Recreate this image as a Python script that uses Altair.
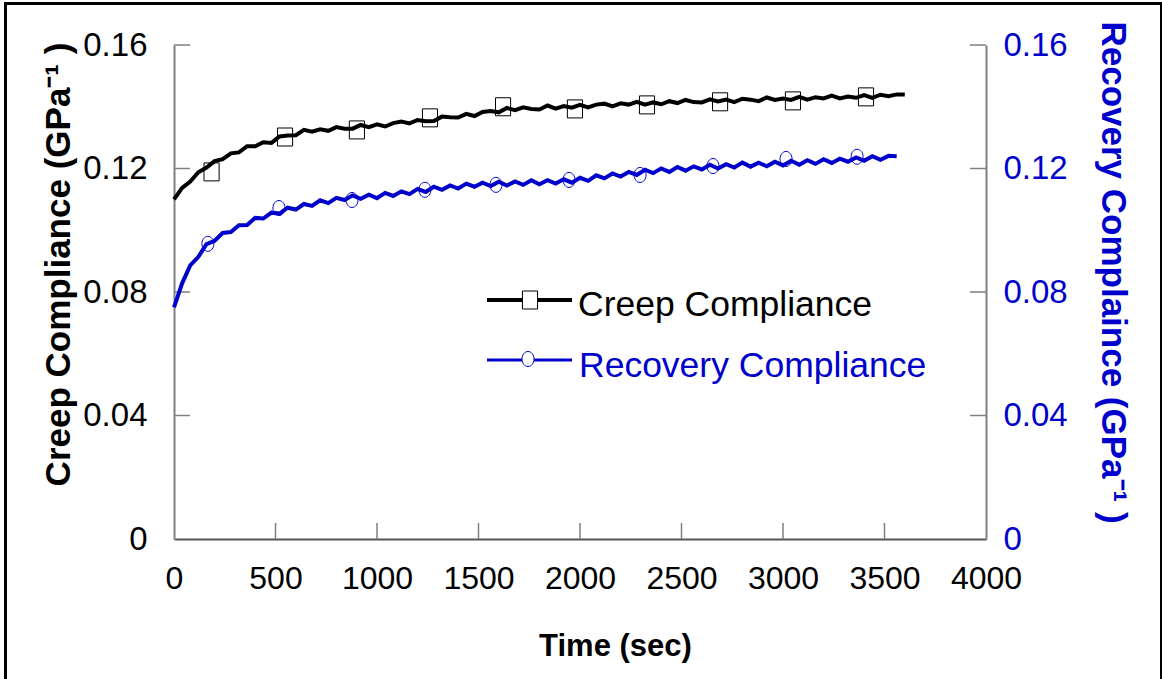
import altair as alt
import pandas as pd

# ---------------- data ----------------
time_creep = [0, 40, 80, 120, 160, 200, 240, 280, 320, 360, 400, 440, 480, 520, 560, 600,
              640, 680, 720, 760, 800, 840, 880, 920, 960, 1000, 1040, 1080, 1120, 1160, 1200,
              1240, 1280, 1320, 1360, 1400, 1440, 1480, 1520, 1560, 1600, 1640, 1680, 1720,
              1760, 1800, 1840, 1880, 1920, 1960, 2000, 2040, 2080, 2120, 2160, 2200, 2240,
              2280, 2320, 2360, 2400, 2440, 2480, 2520, 2560, 2600, 2640, 2680, 2720, 2760,
              2800, 2840, 2880, 2920, 2960, 3000, 3040, 3080, 3120, 3160, 3200, 3240, 3280,
              3320, 3360, 3400, 3440, 3480, 3520, 3560, 3600]
creep = [0.1100, 0.1137, 0.1158, 0.1188, 0.1203, 0.1224, 0.1230, 0.1249, 0.1252, 0.1272,
         0.1272, 0.1285, 0.1283, 0.1304, 0.1307, 0.1308, 0.1325, 0.1319, 0.1327, 0.1322,
         0.1334, 0.1329, 0.1329, 0.1341, 0.1334, 0.1343, 0.1336, 0.1347, 0.1352, 0.1346,
         0.1357, 0.1353, 0.1354, 0.1368, 0.1366, 0.1365, 0.1377, 0.1370, 0.1383, 0.1386,
         0.1382, 0.1396, 0.1389, 0.1398, 0.1393, 0.1391, 0.1404, 0.1394, 0.1402, 0.1397,
         0.1406, 0.1398, 0.1407, 0.1410, 0.1401, 0.1411, 0.1407, 0.1416, 0.1407, 0.1414,
         0.1408, 0.1418, 0.1412, 0.1422, 0.1415, 0.1414, 0.1424, 0.1417, 0.1423, 0.1415,
         0.1426, 0.1423, 0.1418, 0.1430, 0.1422, 0.1427, 0.1422, 0.1432, 0.1423, 0.1431,
         0.1427, 0.1436, 0.1427, 0.1433, 0.1429, 0.1438, 0.1429, 0.1439, 0.1434, 0.1440,
         0.1440]

time_recovery = [0, 40, 80, 120, 160, 200, 240, 280, 320, 360, 400, 440, 480, 520, 560, 600,
                 640, 680, 720, 760, 800, 840, 880, 920, 960, 1000, 1040, 1080, 1120, 1160,
                 1200, 1240, 1280, 1320, 1360, 1400, 1440, 1480, 1520, 1560, 1600, 1640, 1680,
                 1720, 1760, 1800, 1840, 1880, 1920, 1960, 2000, 2040, 2080, 2120, 2160, 2200,
                 2240, 2280, 2320, 2360, 2400, 2440, 2480, 2520, 2560, 2600, 2640, 2680, 2720,
                 2760, 2800, 2840, 2880, 2920, 2960, 3000, 3040, 3080, 3120, 3160, 3200, 3240,
                 3280, 3320, 3360, 3400, 3440, 3480, 3520, 3560]
recovery = [0.0750, 0.0828, 0.0886, 0.0914, 0.0955, 0.0966, 0.0991, 0.0994, 0.1016, 0.1017,
            0.1040, 0.1038, 0.1057, 0.1054, 0.1073, 0.1067, 0.1085, 0.1079, 0.1097, 0.1088,
            0.1105, 0.1098, 0.1113, 0.1102, 0.1115, 0.1104, 0.1121, 0.1111, 0.1126, 0.1117,
            0.1134, 0.1124, 0.1141, 0.1131, 0.1145, 0.1135, 0.1151, 0.1141, 0.1154, 0.1143,
            0.1157, 0.1145, 0.1158, 0.1147, 0.1162, 0.1149, 0.1162, 0.1151, 0.1165, 0.1154,
            0.1170, 0.1160, 0.1178, 0.1168, 0.1184, 0.1174, 0.1189, 0.1179, 0.1196, 0.1185,
            0.1200, 0.1189, 0.1205, 0.1193, 0.1207, 0.1197, 0.1212, 0.1200, 0.1214, 0.1203,
            0.1219, 0.1206, 0.1219, 0.1207, 0.1222, 0.1210, 0.1225, 0.1212, 0.1227, 0.1215,
            0.1230, 0.1218, 0.1232, 0.1222, 0.1236, 0.1225, 0.1240, 0.1228, 0.1241, 0.1240]

creep_marker_time = [185, 547, 901, 1261, 1621, 1975, 2330, 2690, 3049, 3409]
creep_marker_value = [0.1189, 0.1302, 0.1325, 0.1364, 0.1400, 0.1393, 0.1406, 0.1416, 0.1419, 0.1432]
recovery_marker_time = [167, 517, 877, 1236, 1586, 1946, 2296, 2655, 3015, 3365]
recovery_marker_value = [0.0956, 0.1072, 0.1098, 0.1131, 0.1147, 0.1163, 0.1179, 0.1208, 0.1231, 0.1238]

x_tick_values = [0, 500, 1000, 1500, 2000, 2500, 3000, 3500, 4000]
x_inner_ticks = [500, 1000, 1500, 2000, 2500, 3000, 3500]
y_tick_values = [0, 0.04, 0.08, 0.12, 0.16]
y_inner_ticks = [0.04, 0.08, 0.12, 0.16]

# ---------------- styling ----------------
W, H = 812, 494
BLUE = "#0000CC"
GRAY = "#808080"
SANS = "'Liberation Sans', Arial, sans-serif"
SQUARE = "M-0.84,-1H0.84V1H-0.84Z"
ELLIPSE = "M-0.8,0A0.8,1 0 1,0 0.8,0A0.8,1 0 1,0 -0.8,0Z"

df_creep = pd.DataFrame({"t": time_creep, "v": creep})
df_rec = pd.DataFrame({"t": time_recovery, "v": recovery})
df_cm = pd.DataFrame({"t": creep_marker_time, "v": creep_marker_value})
df_rm = pd.DataFrame({"t": recovery_marker_time, "v": recovery_marker_value})
df_xt = pd.DataFrame({"t": x_inner_ticks})
df_yt = pd.DataFrame({"v": y_inner_ticks})

xscale = alt.Scale(domain=[0, 4000], nice=False, zero=False)
yscale = alt.Scale(domain=[0, 0.16], nice=False)

x_axis = alt.Axis(values=x_tick_values, format="d", ticks=False, tickSize=0, grid=False,
                  domainColor="#555555", domainWidth=2, labelFont=SANS, labelFontSize=32,
                  labelColor="black", labelPadding=24, labelFlush=False, labelOverlap=False,
                  title="Time (sec)", titleFont=SANS, titleFontSize=31, titleFontWeight="bold",
                  titleColor="black", titleX=441, titleY=116, titleBaseline="alphabetic",
                  titleAlign="center")

y_left_axis = alt.Axis(values=y_tick_values, format="~g", ticks=False, tickSize=0, grid=False,
                       orient="left", domainColor=GRAY, domainWidth=2, labelFont=SANS,
                       labelFontSize=33, labelColor="black", labelPadding=27, labelFlush=False,
                       labelOverlap=False,
                       title="Creep Compliance (GPa\u207b\u00b9 )", titleFont=SANS, titleFontSize=35,
                       titleFontWeight="bold", titleColor="black", titleAngle=270,
                       titleX=-105, titleY=219, titleBaseline="alphabetic", titleAlign="center")

y_right_axis = alt.Axis(values=y_tick_values, format="~g", ticks=False, tickSize=0, grid=False,
                        orient="right", domainColor=GRAY, domainWidth=2, labelFont=SANS,
                        labelFontSize=33, labelColor=BLUE, labelPadding=17, labelFlush=False,
                        labelOverlap=False,
                        title="Recovery Complaince (GPa\u207b\u00b9 )", titleFont=SANS,
                        titleFontSize=35, titleFontWeight="bold", titleColor=BLUE, titleAngle=90,
                        titleX=115, titleY=227, titleBaseline="alphabetic", titleAlign="center")

X = alt.X("t:Q", scale=xscale, axis=x_axis)

# creep group (left axis)
creep_line = alt.Chart(df_creep).mark_line(color="black", strokeWidth=4).encode(
    x=X, y=alt.Y("v:Q", scale=yscale, axis=y_left_axis))
creep_pts = alt.Chart(df_cm).mark_point(shape=SQUARE, size=324, filled=False, color="black",
                                        strokeWidth=1, opacity=1).encode(
    x=X, y=alt.Y("v:Q", scale=yscale, axis=y_left_axis))
left_ticks = alt.Chart(df_yt).mark_rule(color=GRAY, strokeWidth=1.5).encode(
    y=alt.Y("v:Q", scale=yscale, axis=y_left_axis), x=alt.value(0), x2=alt.value(16))
creep_group = alt.layer(creep_line, creep_pts, left_ticks)

# recovery group (right axis)
rec_line = alt.Chart(df_rec).mark_line(color=BLUE, strokeWidth=4).encode(
    x=X, y=alt.Y("v:Q", scale=yscale, axis=y_right_axis))
rec_pts = alt.Chart(df_rm).mark_point(shape=ELLIPSE, size=225, filled=False, color=BLUE,
                                      strokeWidth=1, opacity=1).encode(
    x=X, y=alt.Y("v:Q", scale=yscale, axis=y_right_axis))
right_ticks = alt.Chart(df_yt).mark_rule(color=GRAY, strokeWidth=1.5).encode(
    y=alt.Y("v:Q", scale=yscale, axis=y_right_axis), x=alt.value(W), x2=alt.value(W - 16))
rec_group = alt.layer(rec_line, rec_pts, right_ticks)

# inner x ticks
x_ticks = alt.Chart(df_xt).mark_rule(color=GRAY, strokeWidth=1.5).encode(
    x=X, y=alt.value(H), y2=alt.value(H - 16))

# frame around the figure
one = alt.Data(values=[{}])
frame_left = alt.Chart(one).mark_rule(color="black", strokeWidth=3).encode(
    x=alt.value(-168.5), y=alt.value(-43), y2=alt.value(650))
frame_top = alt.Chart(one).mark_rule(color="black", strokeWidth=3).encode(
    x=alt.value(-170), x2=alt.value(988), y=alt.value(-41.5))
frame_right = alt.Chart(one).mark_rule(color="black", strokeWidth=2).encode(
    x=alt.value(987), y=alt.value(-43), y2=alt.value(650))

# legend
leg_c_line = alt.Chart(one).mark_rule(color="black", strokeWidth=4).encode(
    x=alt.value(313), x2=alt.value(398), y=alt.value(255))
leg_c_pt = alt.Chart(one).mark_point(shape=SQUARE, size=324, filled=True, fill="white",
                                     stroke="black", strokeWidth=1, opacity=1).encode(
    x=alt.value(356), y=alt.value(255))
leg_c_txt = alt.Chart(one).mark_text(font=SANS, fontSize=35.5, align="left", baseline="alphabetic",
                                     color="black").encode(
    x=alt.value(404), y=alt.value(271), text=alt.value("Creep Compliance"))
leg_r_line = alt.Chart(one).mark_rule(color=BLUE, strokeWidth=3).encode(
    x=alt.value(313), x2=alt.value(398), y=alt.value(315))
leg_r_pt = alt.Chart(one).mark_point(shape=ELLIPSE, size=225, filled=True, fill="white",
                                     stroke=BLUE, strokeWidth=1, opacity=1).encode(
    x=alt.value(354), y=alt.value(314))
leg_r_txt = alt.Chart(one).mark_text(font=SANS, fontSize=35.5, align="left", baseline="alphabetic",
                                     color=BLUE).encode(
    x=alt.value(405), y=alt.value(332), text=alt.value("Recovery Compliance"))

chart = alt.layer(
    creep_group, rec_group, x_ticks,
    frame_left, frame_top, frame_right,
    leg_c_line, leg_c_pt, leg_c_txt, leg_r_line, leg_r_pt, leg_r_txt,
).resolve_scale(y="independent").properties(
    width=W, height=H,
    autosize=alt.AutoSizeParams(type="none"),
    padding={"left": 174, "top": 45, "right": 176, "bottom": 140},
    background="white",
).configure_view(strokeWidth=0)

chart.save("out.html", embed_options={"renderer": "svg", "actions": False})
